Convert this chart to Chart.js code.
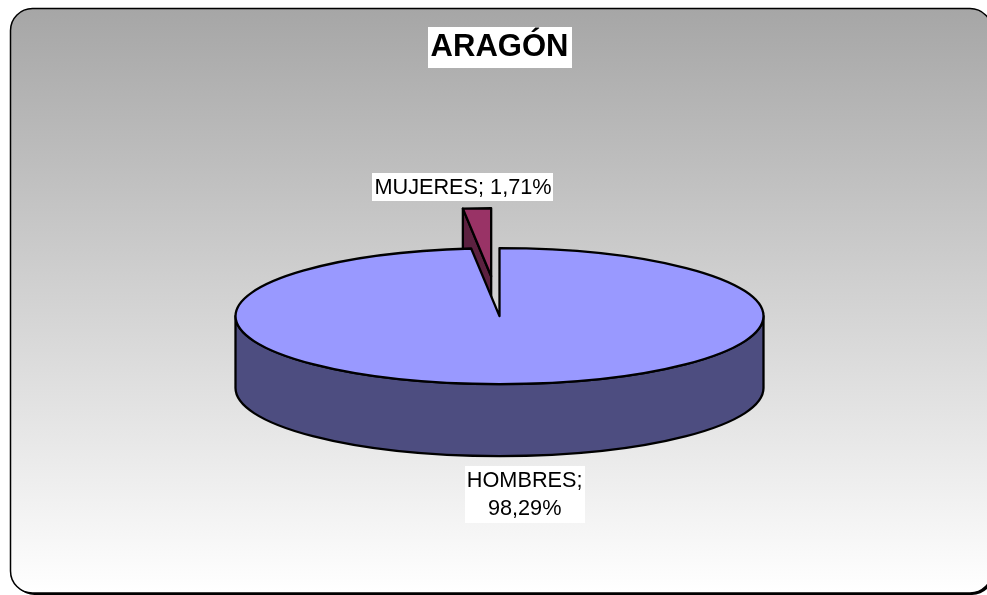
<!DOCTYPE html>
<html>
<head>
<meta charset="utf-8">
<script src="https://cdn.jsdelivr.net/npm/chart.js@4.4.1/dist/chart.umd.min.js"></script>
<style>
html,body{margin:0;padding:0;background:#fff;overflow:hidden}
canvas{display:block}
</style>
</head>
<body>
<canvas id="c" width="987" height="595"></canvas>
<script>
// ---- data ----
const chartTitle = 'ARAGÓN';
const categories = ['HOMBRES', 'MUJERES'];
const percentages = [98.29, 1.71];
const valueLabels = ['98,29%', '1,71%'];
const sliceColors = ['#9999FF', '#993366'];
const sideColors = ['#4D4D80', '#5C2140'];
const explodeOffsets = [0, 155];

// ---- 3D look ----
const TILT = 68 / 264;   // vertical squash of the pie disc
const DEPTH = 72;        // thickness of the pie in pixels
const FONT = "'Liberation Sans', Arial, sans-serif";

function sliceGeometry(chart) {
  const meta = chart.getDatasetMeta(0);
  return meta.data.map((arc, i) => {
    const p = arc.getProps(['x', 'y', 'startAngle', 'endAngle', 'outerRadius'], true);
    const off = arc.options.offset || 0;
    const mid = (p.startAngle + p.endAngle) / 2;
    return {
      i,
      cx: p.x + Math.cos(mid) * off,
      cy: p.y + Math.sin(mid) * off * TILT,
      r: p.outerRadius,
      s: p.startAngle,
      e: p.endAngle,
      mid,
      top: arc.options.backgroundColor,
      side: sideColors[i]
    };
  });
}

function pt(sl, a, dz) {
  return [sl.cx + sl.r * Math.cos(a), sl.cy + sl.r * Math.sin(a) * TILT + (dz || 0)];
}

const backgroundPlugin = {
  id: 'frameBg',
  beforeDraw(chart) {
    const ctx = chart.ctx;
    const W = chart.width, H = chart.height;
    ctx.save();
    ctx.fillStyle = '#ffffff';
    ctx.fillRect(0, 0, W, H);
    const x0 = 10.5, y0 = 8.5, x1 = 992, y1 = 593, rad = 22;
    const rr = (ox, oy) => {
      ctx.beginPath();
      ctx.moveTo(x0 + rad + ox, y0 + oy);
      ctx.lineTo(x1 - rad + ox, y0 + oy);
      ctx.arcTo(x1 + ox, y0 + oy, x1 + ox, y0 + rad + oy, rad);
      ctx.lineTo(x1 + ox, y1 - rad + oy);
      ctx.arcTo(x1 + ox, y1 + oy, x1 - rad + ox, y1 + oy, rad);
      ctx.lineTo(x0 + rad + ox, y1 + oy);
      ctx.arcTo(x0 + ox, y1 + oy, x0 + ox, y1 - rad + oy, rad);
      ctx.lineTo(x0 + ox, y0 + rad + oy);
      ctx.arcTo(x0 + ox, y0 + oy, x0 + rad + ox, y0 + oy, rad);
      ctx.closePath();
    };
    // shadow
    rr(2, 2);
    ctx.fillStyle = '#000';
    ctx.fill();
    // body
    rr(0, 0);
    const g = ctx.createLinearGradient(0, y0, 0, y1);
    g.addColorStop(0, '#a6a6a6');
    g.addColorStop(1, '#ffffff');
    ctx.fillStyle = g;
    ctx.fill();
    ctx.lineWidth = 1.5;
    ctx.strokeStyle = '#000';
    ctx.stroke();

    // white box behind the title
    const tb = chart.titleBlock;
    if (tb) {
      ctx.font = "bold 31px " + FONT;
      const w = ctx.measureText(chartTitle).width;
      const cx = tb.left + tb.width / 2;
      ctx.fillStyle = '#ffffff';
      ctx.fillRect(Math.round(cx - w / 2 - 3), 27, Math.round(w + 6), 41);
    }
    ctx.restore();
  }
};

const pie3dPlugin = {
  id: 'pie3d',
  beforeDatasetsDraw(chart) {
    const ctx = chart.ctx;
    const slices = sliceGeometry(chart).sort((a, b) => Math.sin(a.mid) - Math.sin(b.mid));
    ctx.save();
    ctx.lineWidth = 2.3;
    ctx.lineJoin = 'round';
    ctx.strokeStyle = '#000';
    for (const sl of slices) {
      const faces = [];
      if (Math.cos(sl.s) < 0) faces.push(sl.s);
      if (Math.cos(sl.e) > 0) faces.push(sl.e);
      // cut faces
      for (const a of faces) {
        const p = pt(sl, a), pd = pt(sl, a, DEPTH);
        ctx.beginPath();
        ctx.moveTo(sl.cx, sl.cy);
        ctx.lineTo(p[0], p[1]);
        ctx.lineTo(pd[0], pd[1]);
        ctx.lineTo(sl.cx, sl.cy + DEPTH);
        ctx.closePath();
        ctx.fillStyle = sl.side;
        ctx.fill();
        ctx.stroke();
      }
      // outer wall (front half only)
      for (let k = -1; k <= 2; k++) {
        const lo = Math.max(sl.s, 2 * Math.PI * k);
        const hi = Math.min(sl.e, 2 * Math.PI * k + Math.PI);
        if (hi > lo) {
          ctx.beginPath();
          ctx.ellipse(sl.cx, sl.cy, sl.r, sl.r * TILT, 0, lo, hi, false);
          ctx.ellipse(sl.cx, sl.cy + DEPTH, sl.r, sl.r * TILT, 0, hi, lo, true);
          ctx.closePath();
          ctx.fillStyle = sl.side;
          ctx.fill();
          ctx.stroke();
        }
      }
      // top face
      ctx.beginPath();
      ctx.moveTo(sl.cx, sl.cy);
      ctx.ellipse(sl.cx, sl.cy, sl.r, sl.r * TILT, 0, sl.s, sl.e, false);
      ctx.closePath();
      ctx.fillStyle = sl.top;
      ctx.fill();
      ctx.stroke();
    }
    ctx.restore();
    return false;
  },
  afterDraw(chart) {
    const ctx = chart.ctx;
    const slices = sliceGeometry(chart);
    ctx.save();
    ctx.font = "21.7px " + FONT;
    ctx.textAlign = 'center';
    ctx.textBaseline = 'middle';
    for (const sl of slices) {
      const up = Math.sin(sl.mid) < 0;
      const anchor = up ? pt(sl, sl.mid) : pt(sl, sl.mid, DEPTH);
      const lines = up
        ? [categories[sl.i] + '; ' + valueLabels[sl.i]]
        : [categories[sl.i] + ';', valueLabels[sl.i]];
      const lh = 28;
      const w = Math.max(...lines.map(l => ctx.measureText(l).width));
      const cx = anchor[0] + (up ? -14 : 11);
      const cy = up ? anchor[1] - 21 : anchor[1] + 38;
      const padX = 2;
      const h = lines.length * lh + (up ? 0 : 1);
      ctx.fillStyle = '#ffffff';
      ctx.fillRect(Math.round(cx - w / 2 - padX), Math.round(cy - h / 2), Math.round(w + 2 * padX), Math.round(h));
      ctx.fillStyle = '#000';
      lines.forEach((l, j) => {
        ctx.fillText(l, cx, cy - (lines.length - 1) * lh / 2 + j * lh + 1);
      });
    }
    ctx.restore();
  }
};

new Chart(document.getElementById('c'), {
  type: 'pie',
  data: {
    labels: categories,
    datasets: [{
      data: percentages,
      backgroundColor: sliceColors,
      borderColor: '#000',
      borderWidth: 2,
      offset: explodeOffsets
    }]
  },
  options: {
    responsive: false,
    animation: false,
    devicePixelRatio: 1,
    radius: 264,
    rotation: 0,
    layout: { padding: { left: 12, right: 0, top: 0, bottom: 29 } },
    plugins: {
      legend: { display: false },
      tooltip: { enabled: false },
      title: {
        display: true,
        text: chartTitle,
        color: '#000',
        font: { family: FONT, size: 31, weight: 'bold', lineHeight: 1.2 },
        padding: { top: 29, bottom: 0 }
      }
    }
  },
  plugins: [backgroundPlugin, pie3dPlugin]
});
</script>
</body>
</html>
